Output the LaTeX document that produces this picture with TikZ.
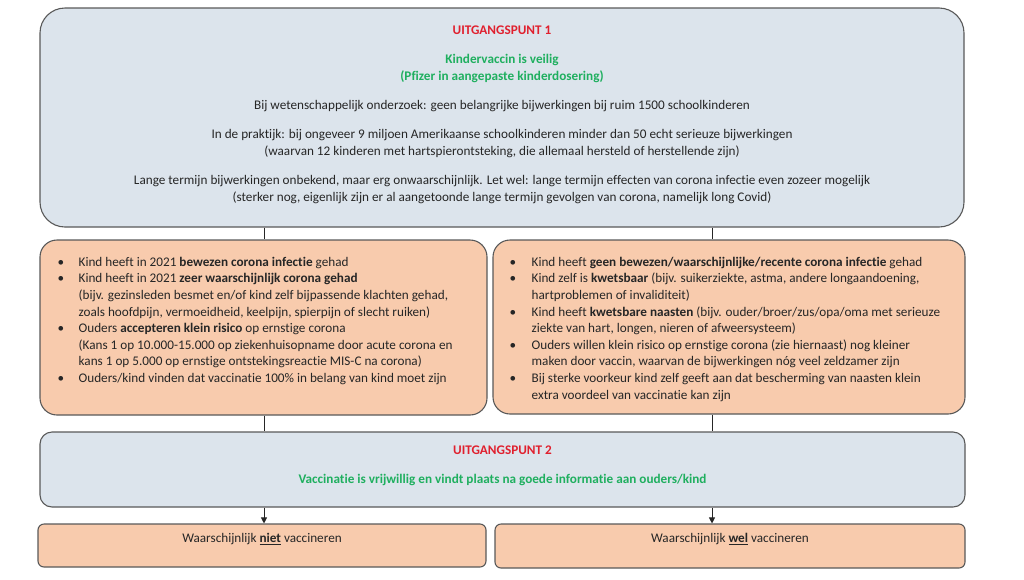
\documentclass[tikz,border=0pt]{standalone}
\usepackage{fontspec}
\setmainfont{Carlito}[Ligatures=CommonOff]
\usetikzlibrary{arrows.meta,positioning}

\definecolor{boxblue}{HTML}{DCE4EC}
\definecolor{boxpeach}{HTML}{F8CBAD}
\definecolor{edge}{HTML}{595959}
\definecolor{ptred}{HTML}{E0202E}
\definecolor{ptgreen}{HTML}{1FAF5F}
\definecolor{ink}{HTML}{262626}
\newcommand{\bul}{\textbullet}

\begin{document}
\begin{tikzpicture}[
  x=1pt,y=-1pt,
  font=\fontsize{13.2}{17}\selectfont,
  text=ink,
  box/.style={draw=edge,line width=1.1pt,inner sep=0pt},
  blue/.style={box,fill=boxblue},
  peach/.style={box,fill=boxpeach},
  txt/.style={inner sep=0pt,align=center},
  list/.style={inner sep=0pt,anchor=north west,font=\fontsize{13.2}{16.6}\selectfont},
  link/.style={draw=ink,line width=0.9pt},
  arr/.style={link,-{Triangle[length=6pt,width=6pt]}}
]
\useasboundingbox (0,0) rectangle (1024,579);

% ---------- boxes ----------
\node[blue,rounded corners=25pt,minimum width=924pt,minimum height=219pt] (uit1) at (502,117.5) {};
\node[peach,rounded corners=17pt,minimum width=447pt,minimum height=175pt] (niet) at (263.5,327.5) {};
\node[peach,rounded corners=17pt,minimum width=472pt,minimum height=174pt] (wel) at (729,327) {};
\node[blue,rounded corners=12pt,minimum width=925pt,minimum height=75pt] (uit2) at (502.5,469.5) {};
\node[peach,rounded corners=6pt,minimum width=448pt,minimum height=43pt] (advniet) at (262,545.5) {};
\node[peach,rounded corners=6pt,minimum width=470pt,minimum height=44pt] (advwel) at (730,546) {};

% ---------- texts ----------
\node[txt,anchor=north] (uit1txt) at ([yshift=-18.5pt]uit1.north)
  {\textcolor{ptred}{\textbf{UITGANGSPUNT 1}}\\[12pt]
   \textcolor{ptgreen}{\textbf{Kindervaccin is veilig}}\\
   \textcolor{ptgreen}{\textbf{(Pfizer in aangepaste kinderdosering)}}\\[12pt]
   Bij wetenschappelijk onderzoek: geen belangrijke bijwerkingen bij ruim 1500 schoolkinderen\\[12pt]
   In de praktijk: bij ongeveer 9 miljoen Amerikaanse schoolkinderen minder dan 50 echt serieuze bijwerkingen\\
   (waarvan 12 kinderen met hartspierontsteking, die allemaal hersteld of herstellende zijn)\\[12pt]
   Lange termijn bijwerkingen onbekend, maar erg onwaarschijnlijk. Let wel: lange termijn effecten van corona infectie even zozeer mogelijk\\
   (sterker nog, eigenlijk zijn er al aangetoonde lange termijn gevolgen van corona, namelijk long Covid)};

\node[list] (niettxt) at ([xshift=18pt,yshift=-15pt]niet.north west)
  {\begin{tabular}{@{}p{21pt}@{}l@{}}
   \bul & Kind heeft in 2021 \textbf{bewezen corona infectie} gehad\\
   \bul & Kind heeft in 2021 \textbf{zeer waarschijnlijk corona gehad}\\
        & (bijv. gezinsleden besmet en/of kind zelf bijpassende klachten gehad,\\
        & zoals hoofdpijn, vermoeidheid, keelpijn, spierpijn of slecht ruiken)\\
   \bul & Ouders \textbf{accepteren klein risico} op ernstige corona\\
        & (Kans 1 op 10.000-15.000 op ziekenhuisopname door acute corona en\\
        & kans 1 op 5.000 op ernstige ontstekingsreactie MIS-C na corona)\\
   \bul & Ouders/kind vinden dat vaccinatie 100\% in belang van kind moet zijn
   \end{tabular}};

\node[list] (weltxt) at ([xshift=17pt,yshift=-15pt]wel.north west)
  {\begin{tabular}{@{}p{22pt}@{}l@{}}
   \bul & Kind heeft \textbf{geen bewezen/waarschijnlijke/recente corona infectie} gehad\\
   \bul & Kind zelf is \textbf{kwetsbaar} (bijv. suikerziekte, astma, andere longaandoening,\\
        & hartproblemen of invaliditeit)\\
   \bul & Kind heeft \textbf{kwetsbare naasten} (bijv. ouder/broer/zus/opa/oma met serieuze\\
        & ziekte van hart, longen, nieren of afweersysteem)\\
   \bul & Ouders willen klein risico op ernstige corona (zie hiernaast) nog kleiner\\
        & maken door vaccin, waarvan de bijwerkingen nóg veel zeldzamer zijn\\
   \bul & Bij sterke voorkeur kind zelf geeft aan dat bescherming van naasten klein\\
        & extra voordeel van vaccinatie kan zijn
   \end{tabular}};

\node[txt,anchor=north] (uit2txt) at ([yshift=-14.5pt]uit2.north)
  {\textcolor{ptred}{\textbf{UITGANGSPUNT 2}}\\[12pt]
   \textcolor{ptgreen}{\textbf{Vaccinatie is vrijwillig en vindt plaats na goede informatie aan ouders/kind}}};

\node[txt,anchor=base] (advniettxt) at ([yshift=-19.5pt]advniet.north)
  {Waarschijnlijk \underline{\textbf{niet}} vaccineren};
\node[txt,anchor=base] (advweltxt) at ([yshift=-19.5pt]advwel.north)
  {Waarschijnlijk \underline{\textbf{wel}} vaccineren};

% ---------- connectors ----------
\coordinate (lx) at (264,0);
\coordinate (rx) at (712,0);
\draw[link] (uit1.south -| lx) -- (niet.north -| lx);
\draw[link] (niet.south -| lx) -- (uit2.north -| lx);
\draw[link] (uit1.south -| rx) -- (wel.north -| rx);
\draw[link] (wel.south -| rx) -- (uit2.north -| rx);
\draw[arr] (uit2.south -| lx) -- (advniet.north -| lx);
\draw[arr] (uit2.south -| rx) -- (advwel.north -| rx);

\end{tikzpicture}
\end{document}
